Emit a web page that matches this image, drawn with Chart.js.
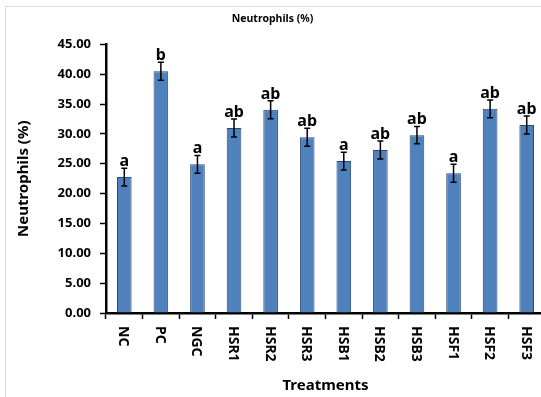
<!DOCTYPE html>
<html lang="en">
<head>
  <meta charset="UTF-8">
  <title>Neutrophils (%)</title>
  <script src="https://cdn.jsdelivr.net/npm/chart.js"></script>
  <style>
    body {
      margin: 0;
      background: #fff;
      overflow: hidden;
    }
    .wrap {
      position: relative;
      width: 592px;
      height: 397px;
    }
    .frame {
      position: absolute;
      left: 5px;
      top: 6px;
      width: 700px;
      height: 500px;
      border: 1px solid #d9d9d9;
    }
    canvas {
      position: absolute;
      left: 0;
      top: 0;
    }
  </style>
</head>
<body>
  <div class="wrap">
    <div class="frame"></div>
    <canvas id="barChart" width="592" height="397"></canvas>
  </div>

  <script>
    const treatments = ['NC', 'PC', 'NGC', 'HSR1', 'HSR2', 'HSR3', 'HSB1', 'HSB2', 'HSB3', 'HSF1', 'HSF2', 'HSF3'];
    const neutrophils = [22.77, 40.5, 24.9, 31.0, 34.06, 29.45, 25.45, 27.3, 29.8, 23.4, 34.2, 31.5];
    const errors = [1.5, 1.5, 1.5, 1.5, 1.5, 1.5, 1.5, 1.5, 1.45, 1.5, 1.5, 1.5];
    const letters = ['a', 'b', 'a', 'ab', 'ab', 'ab', 'a', 'ab', 'ab', 'a', 'ab', 'ab'];

    const fontFamily = "'Noto Sans', 'Open Sans', sans-serif";

    // error bars + significance letters
    const errorBars = {
      id: 'errorBars',
      afterDatasetsDraw(chart) {
        const ctx = chart.ctx;
        const y = chart.scales.y;
        const meta = chart.getDatasetMeta(0);
        ctx.save();
        ctx.strokeStyle = '#000';
        ctx.lineWidth = 1.5;
        meta.data.forEach((bar, i) => {
          const top = y.getPixelForValue(neutrophils[i] + errors[i]);
          const bottom = y.getPixelForValue(neutrophils[i] - errors[i]);
          ctx.beginPath();
          ctx.moveTo(bar.x, top);
          ctx.lineTo(bar.x, bottom);
          ctx.moveTo(bar.x - 3, top);
          ctx.lineTo(bar.x + 3, top);
          ctx.moveTo(bar.x - 3, bottom);
          ctx.lineTo(bar.x + 3, bottom);
          ctx.stroke();

          ctx.fillStyle = '#000';
          ctx.font = 'bold 16px ' + fontFamily;
          ctx.textAlign = 'center';
          ctx.textBaseline = 'alphabetic';
          ctx.fillText(letters[i], bar.x, top - 2);
        });
        ctx.restore();
      }
    };

    // x labels rotated clockwise (read top to bottom)
    const xLabels = {
      id: 'xLabels',
      afterDraw(chart) {
        const ctx = chart.ctx;
        const x = chart.scales.x;
        ctx.save();
        ctx.fillStyle = '#000';
        ctx.font = 'bold 14px ' + fontFamily;
        ctx.textAlign = 'left';
        ctx.textBaseline = 'middle';
        treatments.forEach((t, i) => {
          ctx.save();
          ctx.translate(x.getPixelForValue(i) - 1, chart.chartArea.bottom + 13);
          ctx.rotate(Math.PI / 2);
          ctx.fillText(t, 0, 0);
          ctx.restore();
        });
        ctx.restore();
      }
    };

    const ctx = document.getElementById('barChart').getContext('2d');

    new Chart(ctx, {
      type: 'bar',
      data: {
        labels: treatments,
        datasets: [{
          label: 'Neutrophils (%)',
          data: neutrophils,
          backgroundColor: '#4F81BD',
          borderColor: '#2C4A73',
          borderWidth: 1,
          categoryPercentage: 1,
          barPercentage: 0.4
        }]
      },
      options: {
        responsive: false,
        animation: false,
        layout: {
          padding: { left: 0, right: 47, top: 0, bottom: 0 }
        },
        scales: {
          x: {
            afterFit(scale) { scale.height = 84; },
            border: { display: true, color: '#000', width: 2.5 },
            grid: {
              display: true,
              offset: true,
              drawOnChartArea: false,
              drawTicks: true,
              tickLength: 6,
              tickWidth: 1.5,
              color: '#000'
            },
            ticks: { display: false },
            title: {
              display: true,
              text: 'Treatments',
              color: '#000',
              font: { family: fontFamily, size: 15, weight: 'bold' },
              padding: { top: 0, bottom: 2 }
            }
          },
          y: {
            min: 0,
            max: 45,
            afterFit(scale) { scale.width = 106; },
            border: { display: true, color: '#000', width: 2.5 },
            grid: {
              display: true,
              drawOnChartArea: false,
              drawTicks: true,
              tickLength: 6,
              tickWidth: 1.5,
              color: '#000'
            },
            ticks: {
              stepSize: 5,
              color: '#000',
              padding: 9,
              font: { family: fontFamily, size: 13, weight: 'bold' },
              callback: v => v.toFixed(2)
            },
            title: {
              display: true,
              text: 'Neutrophils (%)',
              color: '#000',
              font: { family: fontFamily, size: 15, weight: 'bold' },
              padding: { top: 15, bottom: 0 }
            }
          }
        },
        plugins: {
          legend: { display: false },
          tooltip: { enabled: false },
          title: {
            display: true,
            text: 'Neutrophils (%)',
            color: '#000',
            font: { family: fontFamily, size: 10.5, weight: 'bold' },
            padding: { top: 12.4, bottom: 19.4 }
          }
        }
      },
      plugins: [errorBars, xLabels]
    });
  </script>
</body>
</html>
